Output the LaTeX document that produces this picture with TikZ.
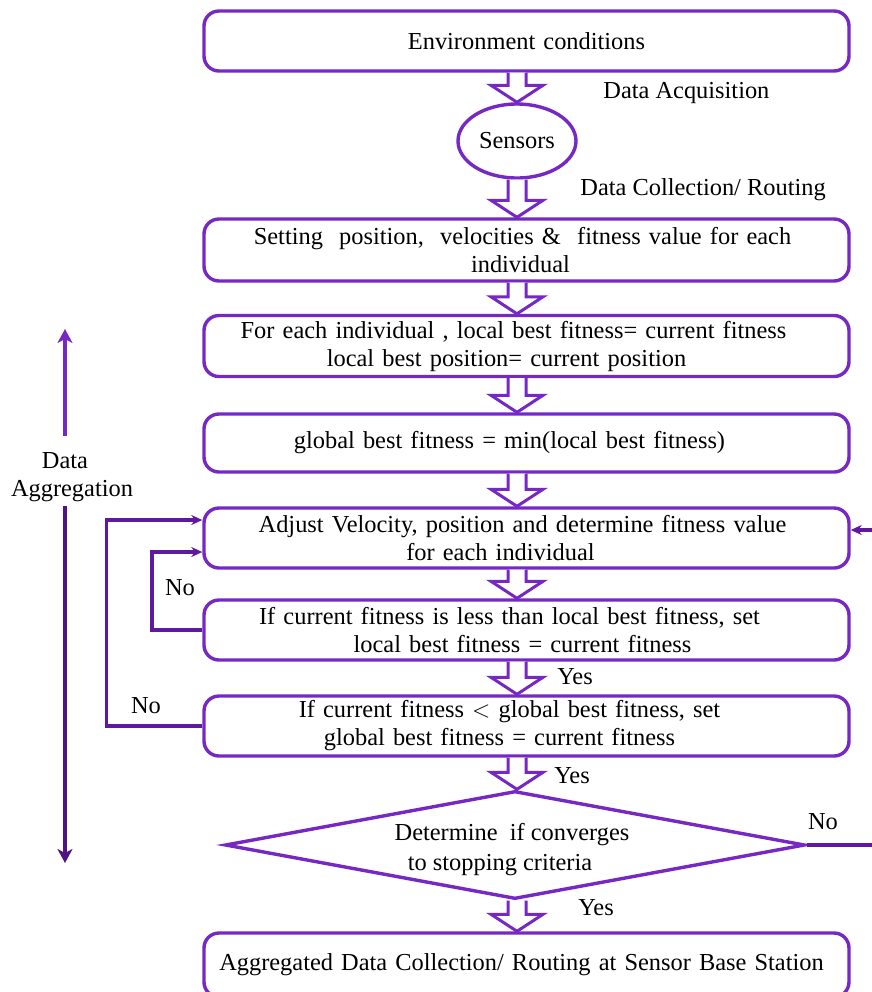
\documentclass[tikz,border=0pt]{standalone}
\usepackage{fontspec}
\setmainfont{Liberation Serif}
\usetikzlibrary{shapes.geometric,arrows.meta,calc}
\definecolor{boxpurple}{RGB}{118,40,196}
\definecolor{linepurple}{RGB}{96,24,160}
\definecolor{darkpurple}{RGB}{80,20,130}
% shift one centred line sideways (argument in picture units)
\newcommand\lineshift[1]{\hspace*{#1pt}}
\begin{document}
\begin{tikzpicture}[x=0.5pt,y=-0.5pt,
  every node/.style={font=\fontsize{12.2}{14}\selectfont},
  stepbox/.style={draw=boxpurple,line width=1.7pt,rounded corners=7.5pt,
    text width=322.5pt,align=center,inner xsep=0pt,inner ysep=2pt,
    minimum width=322.5pt},
  hollowarrow/.style={draw=boxpurple,line width=1.5pt,fill=white,line join=miter},
  loopline/.style={draw=linepurple,line width=1.7pt,-{Stealth[length=5.5pt,width=5pt]}},
  aggline/.style={line width=1.7pt,-{Stealth[length=7pt,width=7.5pt,inset=2pt]}},
  lbl/.style={inner sep=0pt}
]
\useasboundingbox (0,0) rectangle (872,992);
\clip (0,0) rectangle (872,992);

% process boxes
\node[stepbox,minimum height=30pt] (env) at (526.5,41) {Environment conditions};
\node[draw=boxpurple,line width=1.7pt,ellipse,minimum width=59pt,minimum height=37pt,inner sep=0pt]
  (sensors) at (517,141) {Sensors};
\node[stepbox,minimum height=31pt] (init) at (526.5,250)
  {\lineshift{-4}Setting\ \ position,\ \ velocities \&\ \ fitness value for each\\\lineshift{-6}individual};
\node[stepbox,minimum height=30.5pt] (local) at (526.5,346)
  {\lineshift{-13}For each individual , local best fitness= current fitness\\\lineshift{-20}local best position= current position};
\node[stepbox,minimum height=29pt] (global) at (526.5,443)
  {\lineshift{-17}global best fitness = min(local best fitness)};
\node[stepbox,minimum height=30pt] (adjust) at (526.5,538)
  {\lineshift{-4}Adjust Velocity, position and determine fitness value\\\lineshift{-26}for each individual};
\node[stepbox,minimum height=30pt] (cmplocal) at (526.5,630)
  {\lineshift{-17}If current fitness is less than local best fitness, set\\\lineshift{-4}local best fitness = current fitness};
\node[stepbox,minimum height=30pt] (cmpglobal) at (526.5,726)
  {\lineshift{-17}If current fitness $<$ global best fitness, set\\\lineshift{-27}global best fitness = current fitness};
\node[draw=boxpurple,line width=1.7pt,diamond,aspect=5.37,minimum width=290pt,minimum height=54pt,
  inner sep=0pt,align=center] (stop) at (515,845)
  {\rule{0pt}{13pt}\lineshift{-3}Determine\ \ if converges\\[1pt]\lineshift{-15}to stopping criteria};
\node[stepbox,minimum height=32pt] (base) at (526.5,965)
  {\lineshift{-5}Aggregated Data Collection/ Routing at Sensor Base Station};

% hollow block arrows down the main column
\newcommand\blockarrow[2]{%
  \path[hollowarrow] let \p1=(#1.south), \p2=(#2.north), \p3=(sensors.center) in
    (\x3-4.5pt,\y1) -- (\x3-4.5pt,\y2+8.5pt) -- (\x3-13pt,\y2+8.5pt) -- (\x3,\y2)
    -- (\x3+13pt,\y2+8.5pt) -- (\x3+4.5pt,\y2+8.5pt) -- (\x3+4.5pt,\y1);}
\blockarrow{env}{sensors}
\blockarrow{sensors}{init}
\blockarrow{init}{local}
\blockarrow{local}{global}
\blockarrow{global}{adjust}
\blockarrow{adjust}{cmplocal}
\blockarrow{cmplocal}{cmpglobal}
\blockarrow{cmpglobal}{stop}
\blockarrow{stop}{base}

% stage labels
\node[lbl,anchor=west] (acq) at (603,93) {Data Acquisition};
\node[lbl,anchor=west] (coll) at (580,190) {Data Collection/ Routing};

% feedback loops
\draw[loopline,line width=2pt] (cmplocal.west) -- ++(-50,0) |- ([yshift=-7pt]adjust.west);
\draw[loopline] (cmpglobal.west) -- ++(-96,0) |- ([yshift=9pt]adjust.west);
\draw[loopline] (stop.east) -- ++(120,0) |- ([yshift=4pt]adjust.east);

% branch labels
\node[lbl] (yes1) at (575,677) {Yes};
\node[lbl] (yes2) at (572,776) {Yes};
\node[lbl] (yes3) at (596,908) {Yes};
\node[lbl] (no1) at (180,588) {No};
\node[lbl] (no2) at (146,706) {No};
\node[lbl] (no3) at (823,822) {No};

% data aggregation span
\node[lbl,align=center] (agg) at (72,477) {\lineshift{-7}Data\\Aggregation};
\coordinate (aggtop) at (65,329);
\coordinate (aggbot) at (65,863);
\draw[aggline,draw=boxpurple,fill=boxpurple] (65,436) -- (aggtop);
\draw[aggline,draw=darkpurple,fill=darkpurple] (65,506) -- (aggbot);
\end{tikzpicture}
\end{document}
